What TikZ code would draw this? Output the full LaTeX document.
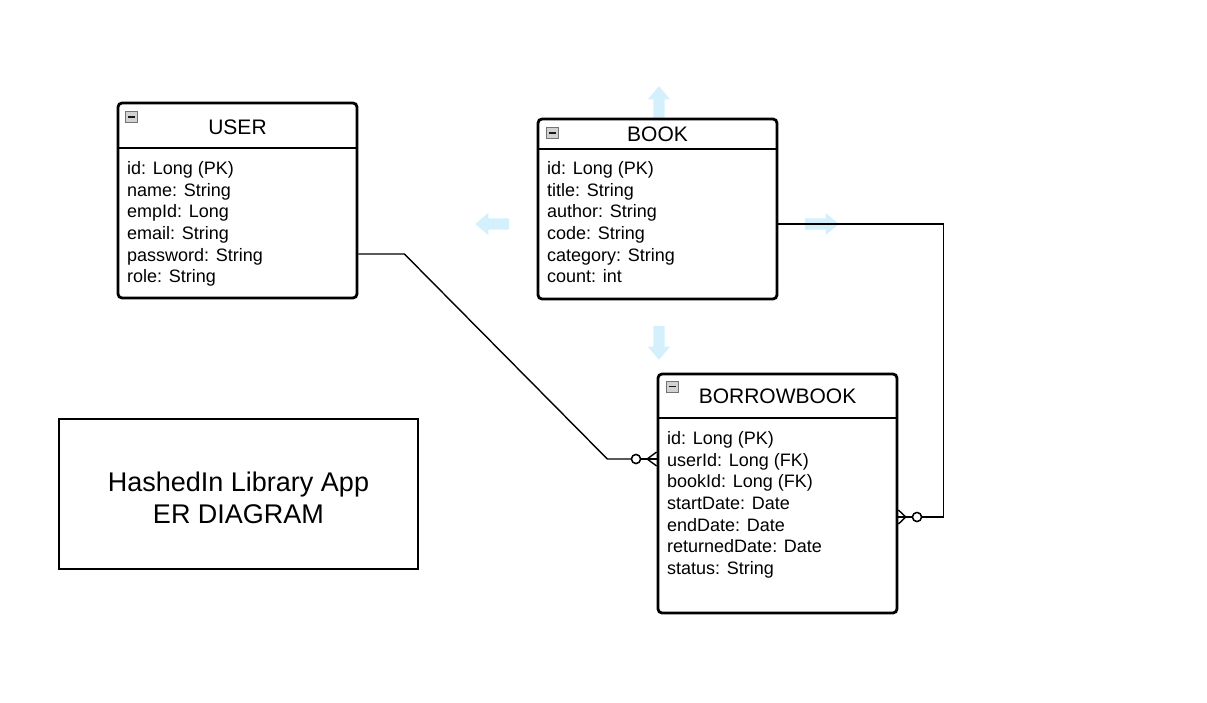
\documentclass[tikz,border=0pt]{standalone}
\usepackage{fontspec}
\setmainfont{Liberation Sans}
\usetikzlibrary{shapes.arrows}

\definecolor{hintblue}{RGB}{212,240,252}

\tikzset{
  entity/.style={draw, line width=2.8pt, rounded corners=4pt, minimum width=239pt, inner sep=0pt},
  heading/.style={font=\fontsize{21}{25}\selectfont, inner sep=0pt},
  fields/.style={font=\fontsize{18}{21.6}\selectfont, align=left, anchor=north west, inner sep=0pt},
  minus/.style={draw=gray!90!black, fill=gray!35, line width=0.9pt, minimum width=12pt, minimum height=11pt, inner sep=0pt,
    path picture={\draw[line width=1.6pt, gray!20!black] ([xshift=2.5pt]path picture bounding box.west) -- ([xshift=-2.5pt]path picture bounding box.east);}},
  hint/.style={single arrow, fill=hintblue, minimum height=34pt, inner xsep=0pt, inner ysep=5.5pt,
    single arrow head extend=5.5pt, single arrow tip angle=80, rotate=#1},
  rel/.style={line width=1.4pt},
  ring/.style={circle, draw, fill=white, line width=1.4pt, minimum size=9pt, inner sep=0pt}
}

\begin{document}
\begin{tikzpicture}[x=1pt,y=-1pt]
\useasboundingbox (0,0) rectangle (1207,703);

% hover arrows round BOOK
\node[hint=90] (book-up) at (659,106.5) {};
\node[hint=-90] (book-down) at (659,339.5) {};
\node[hint=180] (book-left) at (495.5,224) {};
\node[hint=0] (book-right) at (818.5,224) {};

% relation ends
\node[ring] (ring1) at (636,459) {};
\node[ring] (ring2) at (917,517) {};

% entities
\node[entity, minimum height=195pt] (user) at (237.5,200.5) {};
\node[entity, minimum height=180pt] (book) at (657.5,209) {};
\node[entity, minimum height=239pt] (borrow) at (777.5,493.5) {};

% relations
\path (user.east) ++(0,53.5) coordinate (user-out);
\path (book.east) ++(0,15) coordinate (book-out);
\draw[rel] (user-out) -- ++(46,0) -- ([xshift=-23.5pt]ring1.west) -- (ring1.west);
\draw[rel] (ring1.east) -- (borrow.west |- ring1);
\draw[rel] ([xshift=6pt]ring1.east) -- ([yshift=7pt]borrow.west |- ring1);
\draw[rel] ([xshift=6pt]ring1.east) -- ([yshift=-7pt]borrow.west |- ring1);
\draw[rel] (book-out) -| ([xshift=21.5pt]ring2.east) -- (ring2.east);
\draw[rel] (ring2.west) -- (borrow.east |- ring2);
\draw[rel] ([xshift=-6pt]ring2.west) -- ([yshift=7pt]borrow.east |- ring2);
\draw[rel] ([xshift=-6pt]ring2.west) -- ([yshift=-7pt]borrow.east |- ring2);
\node[ring] at (ring1) {};
\node[ring] at (ring2) {};

% USER
\draw[line width=2.8pt] (user.west |- 0,148) -- (user.east |- 0,148);
\node[minus] (user-min) at (131.5,117) {};
\node[heading] (user-title) at (237.5,127) {USER};
\node[fields] (user-fields) at (127,161.5) {id: Long (PK)\\name: String\\empId: Long\\email: String\\password: String\\role: String};

% BOOK
\draw[line width=2.8pt] (book.west |- 0,149) -- (book.east |- 0,149);
\node[minus] (book-min) at (552.5,133) {};
\node[heading] (book-title) at (657.5,134.5) {BOOK};
\node[fields] (book-fields) at (547,161.5) {id: Long (PK)\\title: String\\author: String\\code: String\\category: String\\count: int};

% BORROWBOOK
\draw[line width=2.8pt] (borrow.west |- 0,418) -- (borrow.east |- 0,418);
\node[minus] (borrow-min) at (672,386.5) {};
\node[heading] (borrow-title) at (777.5,396.5) {BORROWBOOK};
\node[fields] (borrow-fields) at (667,431.5) {id: Long (PK)\\userId: Long (FK)\\bookId: Long (FK)\\startDate: Date\\endDate: Date\\returnedDate: Date\\status: String};

% caption
\node[draw, line width=1.2pt, minimum width=359pt, minimum height=150pt] (caption) at (238.5,494) {};
\node[align=center, font=\fontsize{27}{32.4}\selectfont] (caption-text) at ([yshift=-4pt]caption.center) {HashedIn Library App\\ER DIAGRAM};
\end{tikzpicture}
\end{document}
